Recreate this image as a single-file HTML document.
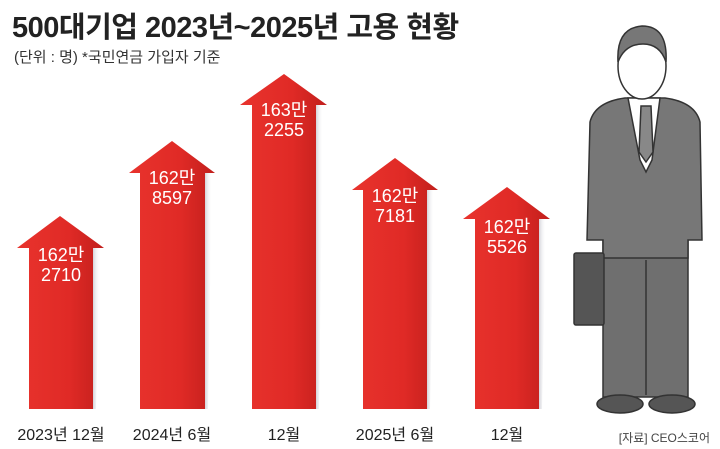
<!DOCTYPE html>
<html><head><meta charset="utf-8"><style>
body{margin:0;background:#fff;}
.c{position:relative;width:720px;height:449px;overflow:hidden;font-family:"Liberation Sans","Noto Sans CJK KR",sans-serif;}
.t{position:absolute;left:12px;top:4px;font-size:29px;font-weight:bold;color:#222;letter-spacing:-0.5px;}
.s{position:absolute;left:14px;top:46px;font-size:15px;color:#333;}
.v{position:absolute;color:#fff;font-size:18px;text-align:center;line-height:20px;width:80px;}
.x{position:absolute;top:421px;font-size:16px;color:#222;text-align:center;width:120px;}
.src{position:absolute;right:10px;top:429px;font-size:12px;color:#444;}
</style></head><body><div class="c">
<svg width="720" height="449" style="position:absolute;left:0;top:0">
<defs>
<linearGradient id="g" x1="0" x2="1"><stop offset="0" stop-color="#e8332d"/><stop offset="0.6" stop-color="#e02a26"/><stop offset="1" stop-color="#c11f1c"/></linearGradient>
<linearGradient id="sh" x1="0" x2="1"><stop offset="0" stop-color="#c8c8d0" stop-opacity="0.8"/><stop offset="1" stop-color="#fff" stop-opacity="0"/></linearGradient>
</defs>
<g fill="url(#g)">
<polygon points="60,216 104,248 93,248 93,409 29,409 29,248 17,248"/>
<polygon points="172,141 215,173 205,173 205,409 140,409 140,173 129,173"/>
<polygon points="284,74 327,105 316,105 316,409 252,409 252,105 240,105"/>
<polygon points="395,158 438,190 427,190 427,409 363,409 363,190 352,190"/>
<polygon points="507,187 550,219 539,219 539,409 475,409 475,219 463,219"/>
</g>
<g fill="url(#sh)">
<polygon points="93,248 100,248 96,409 93,409"/><polygon points="205,173 212,173 208,409 205,409"/><polygon points="316,105 323,105 319,409 316,409"/><polygon points="427,190 434,190 430,409 427,409"/><polygon points="539,219 546,219 542,409 539,409"/>
</g>
<!-- person -->
<g stroke="#333" stroke-width="1.5">
<rect x="603" y="235" width="85" height="162" fill="#6f6f6f"/>
<line x1="646" y1="260" x2="646" y2="395"/>
<path d="M590,122 Q595,102 625,98 L665,98 Q695,102 700,122 L702,240 L688,240 L688,258 L603,258 L603,240 L587,240Z" fill="#777"/>
<polygon points="628,98 660,98 652,160 646,172 640,160" fill="#fff"/>
<polygon points="641,106 651,106 653,152 646,162 639,152" fill="#888"/>
<ellipse cx="642" cy="66" rx="24" ry="33" fill="#fff"/>
<path d="M618,62 Q616,28 642,26 Q668,26 666,62 Q660,44 643,44 Q625,44 618,62Z" fill="#777"/>
<rect x="574" y="253" width="30" height="72" rx="2" fill="#555"/>
<ellipse cx="620" cy="404" rx="23" ry="9" fill="#555"/>
<ellipse cx="672" cy="404" rx="23" ry="9" fill="#555"/>
</g>
</svg>
<div class="t">500대기업 2023년~2025년 고용 현황</div>
<div class="s">(단위 : 명) *국민연금 가입자 기준</div>
<div class="v" style="left:21px;top:245px">162만<br>2710</div>
<div class="v" style="left:132px;top:168px">162만<br>8597</div>
<div class="v" style="left:244px;top:100px">163만<br>2255</div>
<div class="v" style="left:355px;top:186px">162만<br>7181</div>
<div class="v" style="left:467px;top:217px">162만<br>5526</div>
<div class="x" style="left:1px">2023년 12월</div>
<div class="x" style="left:112px">2024년 6월</div>
<div class="x" style="left:224px">12월</div>
<div class="x" style="left:335px">2025년 6월</div>
<div class="x" style="left:447px">12월</div>
<div class="src">[자료] CEO스코어</div>
</div></body></html>
